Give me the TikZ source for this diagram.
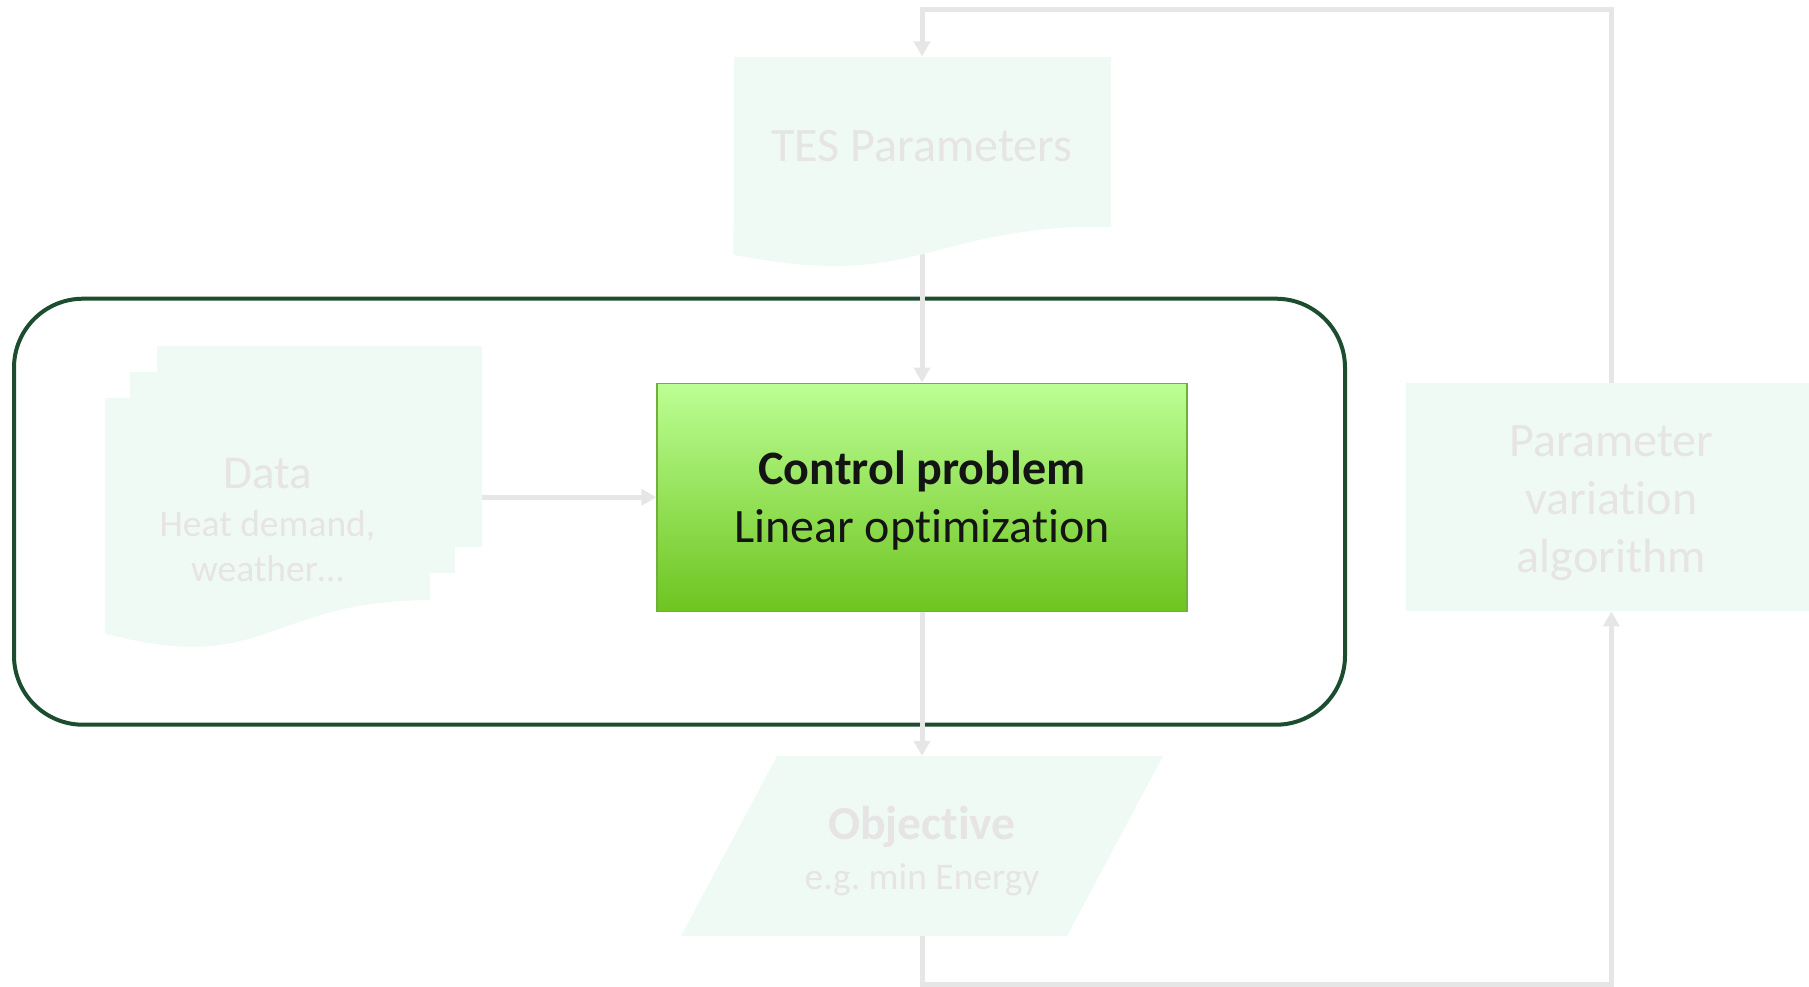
\documentclass[tikz,border=0pt]{standalone}
\usepackage{fontspec}
\setmainfont{Carlito}[Ligatures=NoCommon]
\usetikzlibrary{arrows.meta, positioning}

\definecolor{mintfill}{RGB}{240,250,244}
\definecolor{fadetext}{RGB}{230,228,228}
\definecolor{fadeline}{RGB}{230,230,230}
\definecolor{framegreen}{RGB}{27,77,46}
\definecolor{ctrltop}{RGB}{188,255,148}
\definecolor{ctrlmid}{RGB}{160,234,112}
\definecolor{ctrlbottom}{RGB}{110,196,32}
\definecolor{ctrledge}{RGB}{110,176,58}
\definecolor{ctrltext}{RGB}{20,20,20}

\begin{document}
\begin{tikzpicture}[
    x=1pt, y=-1pt,
    sheet/.style = {fill=mintfill, inner sep=0pt, minimum width=325pt, minimum height=201pt},
    faded/.style = {text=fadetext, align=center, inner sep=0pt},
    bigfont/.style = {font=\fontsize{48}{57.7}\selectfont},
    smallfont/.style = {font=\fontsize{37.5}{45}\selectfont},
    arrow/.style = {draw=fadeline, line width=5pt, -{Triangle[length=15pt, width=16pt]}}
  ]

  \useasboundingbox (0,0) rectangle (1809,986);

  % Frame round the control part
  \node[draw=framegreen, line width=4pt, rounded corners=69pt,
        minimum width=1331pt, minimum height=426pt] (frame) at (679.5,511.7) {};

  % Control problem block
  \node[draw=ctrledge, line width=1.3pt, top color=ctrltop, middle color=ctrlmid, bottom color=ctrlbottom,
        text=ctrltext, align=center, bigfont, minimum width=530pt, minimum height=228pt]
        (ctrl) at (922,497.2) {\rule{0pt}{41pt}\textbf{Control problem}\\Linear optimization};

  % Data: stack of sheets to the left
  \node[sheet, left=174pt of ctrl, yshift=50.7pt] (datasheet3) {};
  \node[sheet, left=200.8pt of ctrl, yshift=24.7pt] (datasheet2) {};
  \node[faded, smallfont, minimum width=325pt, minimum height=252pt,
        left=226.2pt of ctrl, yshift=-26.8pt,
        path picture={
          \fill[mintfill] (path picture bounding box.north west) -- (path picture bounding box.north east)
            -- ([yshift=49.9pt]path picture bounding box.south east)
            .. controls ([yshift=49.9pt]path picture bounding box.south) and ([yshift=-27pt]path picture bounding box.south)
            .. ([yshift=16.6pt]path picture bounding box.south west) -- cycle;
        }] (data) {{\fontsize{47}{52}\selectfont Data}\\[3pt]Heat demand,\\weather…\rule[-8pt]{0pt}{0pt}};

  % TES parameters above
  \node[faded, bigfont, fill=mintfill, minimum width=377pt, minimum height=170pt,
        above=155.7pt of ctrl] (tes) {\rule{0pt}{40pt}TES Parameters};

  % Parameter variation to the right
  \node[faded, bigfont, fill=mintfill, minimum width=411pt, minimum height=228pt,
        right=218pt of ctrl] (param) {\rule{0pt}{42.5pt}Parameter\\variation\\algorithm};

  % Objective below
  \node[faded, smallfont, minimum width=482pt, minimum height=180pt, below=144pt of ctrl,
        path picture={
          \fill[mintfill] ([xshift=96pt]path picture bounding box.north west) -- (path picture bounding box.north east)
            -- ([xshift=-96pt]path picture bounding box.south east) -- (path picture bounding box.south west) -- cycle;
        }] (obj) {\rule{0pt}{43.5pt}{\fontsize{47.5}{52}\selectfont\bfseries Objective}\\[4.6pt]e.g.\ min Energy};

  % Corners of the outer loop
  \coordinate[above=47.3pt of tes.north] (looptop);
  \coordinate[below=48.3pt of obj.south] (loopbot);

  \draw[arrow] (param.north) |- (looptop) -- (tes.north);
  \draw[arrow] (tes.south) -- (ctrl.north);
  \draw[arrow] (datasheet3.east |- ctrl.west) -- (ctrl.west);
  \draw[arrow] (ctrl.south) -- (obj.north);
  \draw[arrow] (obj.south) |- (loopbot) -| (param.south);

  % Wavy lower edge of the TES sheet
  \fill[mintfill] ([yshift=0.5pt]tes.south east) .. controls ([yshift=0.5pt]tes.south) and ([yshift=-64.6pt]tes.south)
    .. ([yshift=-27.9pt]tes.south west) -- ([yshift=0.5pt]tes.south west) -- cycle;

\end{tikzpicture}
\end{document}
